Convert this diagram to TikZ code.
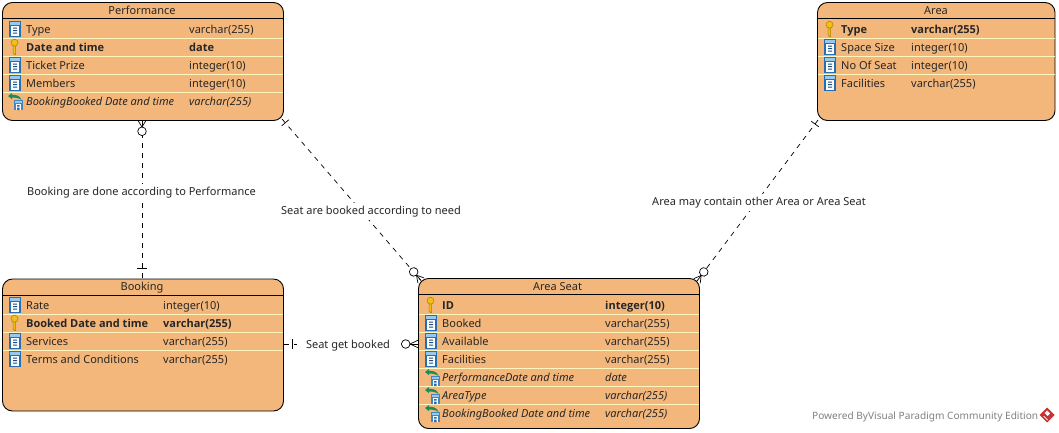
\documentclass[tikz,border=0pt]{standalone}
\usepackage{fontspec}
\setmainfont{Noto Sans}[BoldFont={Open Sans Bold}]
\usetikzlibrary{calc}
\definecolor{erfill}{RGB}{244,183,123}
\definecolor{ersep}{RGB}{255,246,190}
\definecolor{colblue}{RGB}{36,110,180}
\definecolor{colhead}{RGB}{150,200,240}
\definecolor{keygold}{RGB}{240,190,20}
\definecolor{keyedge}{RGB}{170,125,10}
\definecolor{fkgreen}{RGB}{30,140,90}
\definecolor{wmgray}{RGB}{128,128,128}
\definecolor{wmred}{RGB}{200,50,50}
\tikzset{
  entity/.style={draw=black,line width=0.9pt,fill=erfill,rounded corners=10pt,anchor=north west,outer sep=0pt,inner sep=0pt},
  headtxt/.style={font=\fontsize{11}{12}\selectfont,text=black!85,inner sep=0pt,anchor=base},
  rowtxt/.style={font=\fontsize{11}{12}\selectfont,text=black!85,anchor=base west,inner sep=0pt},
  rel/.style={line width=0.7pt,black,dash pattern=on 5pt off 5pt},
  relend/.style={line width=0.7pt,black},
  rellabel/.style={font=\fontsize{11}{12}\selectfont,text=black!85,fill=white,inner xsep=5pt,inner ysep=3pt,anchor=base},
  sepline/.style={ersep,line width=1pt},
  headline/.style={black,line width=0.9pt},
}
\newcommand{\iconcol}[2]{\begin{scope}[shift={(#1,#2)}]
  \fill[colblue] (0,0) rectangle (12,15.5);
  \fill[colhead] (1,1) rectangle (11,4);
  \fill[white] (2,5) rectangle (10,14.5);
  \fill[colblue!70!black] (4,6.5) rectangle (8,7.7) (4,9) rectangle (8,10.2) (4,11.5) rectangle (8,12.7);
\end{scope}}
\newcommand{\iconkey}[2]{\begin{scope}[shift={(#1,#2)}]
  \fill[keygold,draw=keyedge,line width=0.5pt] (2.7,6) -- (2.7,14) -- (3.8,15.5) -- (5.2,15.5) -- (5.2,6) -- cycle;
  \fill[keygold,draw=keyedge,line width=0.5pt] (4,3.7) circle (3.5);
  \fill[erfill] (4,2.4) circle (1);
\end{scope}}
\newcommand{\iconfk}[2]{\begin{scope}[shift={(#1,#2)}]
  \fill[colblue!85!white] (7,7) rectangle (15.5,17);
  \fill[colhead] (8,8) rectangle (14.5,10);
  \fill[white] (8.5,11) rectangle (14,17);
  \fill[colblue] (10,12) rectangle (12.5,13.5) (10,14.5) rectangle (12.5,17);
  \fill[fkgreen] (1,3) -- (5,0) -- (5,1.8) .. controls (9,1.6) and (13,2.5) .. (14.5,7) .. controls (12,5) and (8,4.4) .. (5,4.5) -- (5,6.2) -- cycle;
\end{scope}}
\newcommand{\erow}[7]{%
  \node[rowtxt] (#1n) at (#2,#4) {#5#6};
  \node[rowtxt] (#1t) at (#3,#4) {#5#7};}
\newcommand{\crowfoot}[3]{\begin{scope}[shift={(#1)},rotate=#2]
  \draw[relend] (0,4) -- (#3,0) -- (0,-4);
  \draw[relend] (0,0) -- (#3,0);
  \draw[relend,fill=white] ({#3+4.3},0) circle (4.3);
\end{scope}}
\newcommand{\onebar}[3]{\begin{scope}[shift={(#1)},rotate=#2]
  \draw[relend] (#3,-4.7) -- (#3,4.7);
\end{scope}}
\begin{document}
\begin{tikzpicture}[x=1pt,y=-1pt]
\useasboundingbox (0,0) rectangle (1059,432);
\node[entity,minimum width=281pt,minimum height=118pt] (perf) at (2.5,2.5) {};
\node[entity,minimum width=281pt,minimum height=132pt] (book) at (2.5,279) {};
\node[entity,minimum width=281pt,minimum height=150pt] (seat) at (418.5,278.5) {};
\node[entity,minimum width=237.5pt,minimum height=118pt] (area) at (817.5,2.5) {};
\coordinate (perfB) at (142,120.5);
\coordinate (bookT) at (142,279);
\coordinate (perfR) at (282,119);
\coordinate (seatL) at (421,280.5);
\coordinate (areaL) at (818,120);
\coordinate (seatR) at (697,281);
\coordinate (bookR) at (283.5,344);
\coordinate (seatW) at (418.5,344);
\draw[rel,dash phase=7.5pt] (perfB) -- (bookT);
\draw[rel] (perfR) -- (seatL);
\draw[rel] (areaL) -- (seatR);
\draw[rel] (bookR) -- (seatW);
\crowfoot{perfB}{-90}{6.5}
\onebar{bookT}{90}{11}
\onebar{perfR}{-49.6}{5}
\crowfoot{seatL}{130.4}{7}
\onebar{areaL}{-126.7}{5}
\crowfoot{seatR}{53.3}{7}
\onebar{bookR}{0}{8.5}
\crowfoot{seatW}{180}{8.5}
\node[rellabel] (l1) at (141.5,195) {Booking are done according to Performance};
\node[rellabel] (l2) at (371,214) {Seat are booked according to need};
\node[rellabel] (l3) at (759,205) {Area may contain other Area or Area Seat};
\node[rellabel,inner xsep=9pt] (l4) at (348,348) {Seat get booked};
\node[headtxt] (perfH) at (142,14) {Performance};
\draw[headline] (perf.west |- 0,18.5) -- (perf.east |- 0,18.5);
\foreach \yy in {38.5,56.5,74.5,92.5} \draw[sepline] (3,\yy) -- (283,\yy);
\iconcol{9}{21}\iconkey{10.5}{39}\iconcol{9}{57}\iconcol{9}{75}\iconfk{7}{93}
\erow{p1}{26}{189}{33}{}{Type}{varchar(255)}
\erow{p2}{26}{189}{51}{\bfseries}{Date and time}{date}
\erow{p3}{26}{189}{69}{}{Ticket Prize}{integer(10)}
\erow{p4}{26}{189}{87}{}{Members}{integer(10)}
\erow{p5}{26}{189}{105}{\itshape}{BookingBooked Date and time}{varchar(255)}
\node[headtxt] (bookH) at (142,290) {Booking};
\draw[headline] (book.west |- 0,295) -- (book.east |- 0,295);
\foreach \yy in {314.5,332.5,350.5} \draw[sepline] (3,\yy) -- (283,\yy);
\iconcol{9}{297}\iconkey{10.5}{315}\iconcol{9}{333}\iconcol{9}{351}
\erow{b1}{26}{163}{309}{}{Rate}{integer(10)}
\erow{b2}{26}{163}{327}{\bfseries}{Booked Date and time}{varchar(255)}
\erow{b3}{26}{163}{345}{}{Services}{varchar(255)}
\erow{b4}{26}{163}{363}{}{Terms and Conditions}{varchar(255)}
\node[headtxt] (seatH) at (557.5,290) {Area Seat};
\draw[headline] (seat.west |- 0,294.5) -- (seat.east |- 0,294.5);
\foreach \yy in {314.5,332.5,350.5,368.5,386.5,404.5} \draw[sepline] (419,\yy) -- (699,\yy);
\iconkey{426.5}{297}\iconcol{425}{351}\iconcol{425}{333}\iconcol{425}{315}
\iconfk{424}{369}\iconfk{424}{387}\iconfk{424}{405}
\erow{s1}{442}{605}{309}{\bfseries}{ID}{integer(10)}
\erow{s2}{442}{605}{327}{}{Booked}{varchar(255)}
\erow{s3}{442}{605}{345}{}{Available}{varchar(255)}
\erow{s4}{442}{605}{363}{}{Facilities}{varchar(255)}
\erow{s5}{442}{605}{381}{\itshape}{PerformanceDate and time}{date}
\erow{s6}{442}{605}{399}{\itshape}{AreaType}{varchar(255)}
\erow{s7}{442}{605}{417}{\itshape}{BookingBooked Date and time}{varchar(255)}
\node[headtxt] (areaH) at (936,14) {Area};
\draw[headline] (area.west |- 0,18.5) -- (area.east |- 0,18.5);
\foreach \yy in {38.5,56.5,74.5} \draw[sepline] (818,\yy) -- (1054.5,\yy);
\iconkey{825.5}{21}\iconcol{824}{39}\iconcol{824}{57}\iconcol{824}{75}
\erow{a1}{841}{911}{33}{\bfseries}{Type}{varchar(255)}
\erow{a2}{841}{911}{51}{}{Space Size}{integer(10)}
\erow{a3}{841}{911}{69}{}{No Of Seat}{integer(10)}
\erow{a4}{841}{911}{87}{}{Facilities}{varchar(255)}
\node[font=\fontsize{10.1}{12}\selectfont,text=wmgray,anchor=base west,inner sep=0pt] (wm) at (812,419) {Powered ByVisual Paradigm Community Edition};
\begin{scope}[shift={(1047,415)}]
  \fill[wmred] (0,-7.5) -- (7.5,0) -- (0,7.5) -- (-7.5,0) -- cycle;
  \fill[white] (-2.5,-2) -- (0,-4.5) -- (3,-1.5) -- (0.5,1) -- cycle;
  \draw[white,line width=0.7pt] (-3.5,1) -- (0.5,5);
\end{scope}
\end{tikzpicture}
\end{document}
